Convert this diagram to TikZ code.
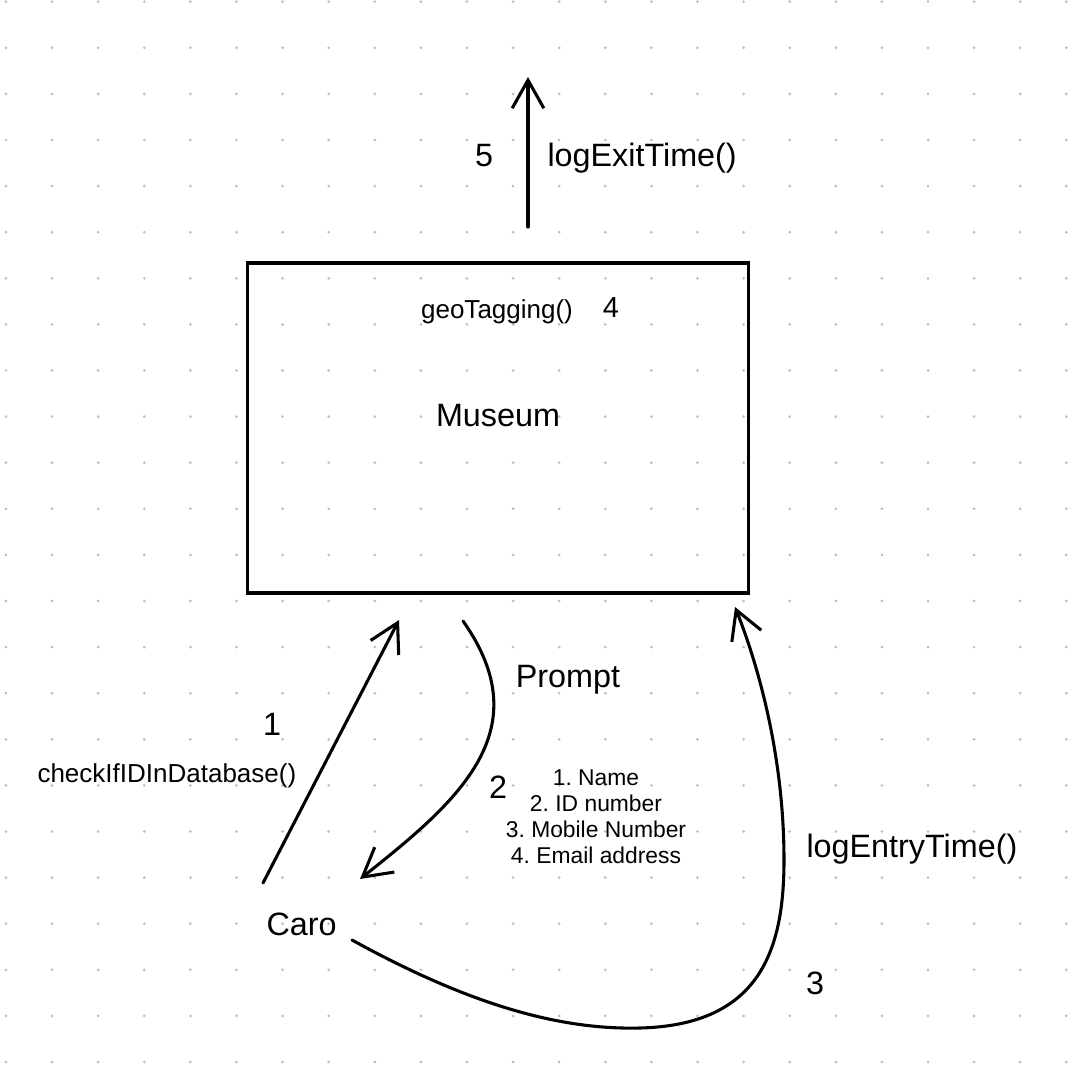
\documentclass[tikz,border=0pt]{standalone}
\usepackage{fontspec}
\setmainfont{Liberation Sans}
\usetikzlibrary{arrows.meta, positioning}
\definecolor{dotgrey}{HTML}{BDBDBD}
\frenchspacing

\begin{document}
\begin{tikzpicture}[
            x = 0.02cm, y = -0.02cm, % one unit per pixel
            > = {Straight Barb[length=16pt, width=18pt]}, % open arrow head
            line width = 1.75pt, % line style
            line cap = round,
        ]
\tikzstyle{bigtext}=[
            inner sep = 0pt,
            font = \fontsize{18.4}{22}\selectfont
        ]
\tikzstyle{midtext}=[
            inner sep = 0pt,
            font = \fontsize{16.5}{19}\selectfont
        ]
\tikzstyle{smalltext}=[
            inner sep = 0pt,
            font = \fontsize{14.8}{18}\selectfont
        ]
\tikzstyle{listtext}=[
            inner sep = 0pt,
            align = center,
            font = \fontsize{13}{14.7}\selectfont
        ]
\tikzstyle{box}=[
            shape = rectangle,
            draw = black,
            inner sep = 0pt,
            minimum width = 10.04cm,
            minimum height = 6.6cm
        ]
\useasboundingbox (0,0) rectangle (1092,1092);
% dotted paper
\foreach \i in {0,...,23}
  \foreach \j in {0,...,23}
    \fill[dotgrey] (6+46.1*\i, 1.7+46.1*\j) circle (0.85pt);

\node[box] (museum) at (498,428) {};
\node[bigtext, anchor=base] (musname) at (498,426) {Museum};
\node[smalltext, anchor=base] (geo) at (497,318) {geoTagging()};
\node[midtext, anchor=base] (four) at (611,317) {4};
\node[bigtext, anchor=base] (five) at (484,166) {5};
\node[bigtext, anchor=base west] (exitlabel) at (546,166) {logExitTime()};
\node[bigtext, anchor=base west] (caro) at (265,935) {Caro};
\node[bigtext, anchor=base] (one) at (272,735) {1};
\node[smalltext, anchor=base west] (checklabel) at (36,782) {checkIfIDInDatabase()};
\node[bigtext, anchor=base] (prompt) at (568,687) {Prompt};
\node[bigtext, anchor=base] (two) at (498,798) {2};
\node[listtext, anchor=north] (fields) at (596,768.6) {1. Name\\2. ID number\\3. Mobile Number\\4. Email address};
\node[bigtext, anchor=base west] (entrylabel) at (805,857) {logEntryTime()};
\node[bigtext, anchor=base] (three) at (815,994) {3};

\coordinate (exitstart) at (528,227);
\coordinate (exitend) at (528,77);
\coordinate (checkstart) at (263,883);
\coordinate (checkend) at (399,620);
\coordinate (promptstart) at (463,621);
\coordinate (promptend) at (360,879);
\coordinate (entrystart) at (352,940);
\coordinate (entryend) at (735,607);

\draw[->] (exitstart) -- (exitend);
\draw[->] (checkstart) -- (checkend);
\draw[->] (promptstart) .. controls (540,730) and (460,800) .. (promptend);
\draw[->] (entrystart) .. controls (470,1005) and (560,1030) .. (640,1028)
    .. controls (760,1025) and (784,950) .. (784,860)
    .. controls (784,760) and (760,670) .. (entryend);
\end{tikzpicture}
\end{document}
